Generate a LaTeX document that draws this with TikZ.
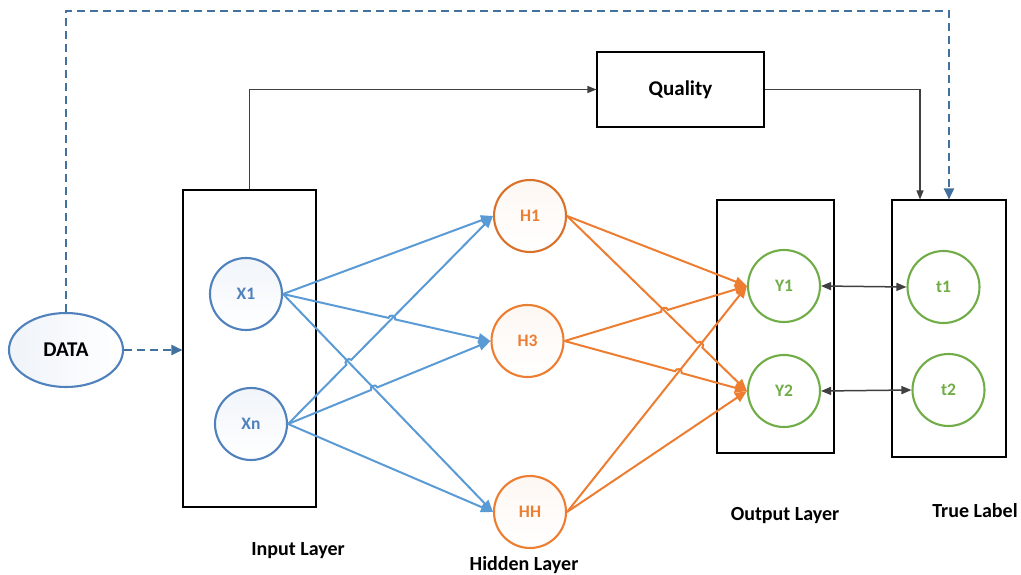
\documentclass[tikz,border=0pt]{standalone}
\usepackage{fontspec}
\setmainfont{Carlito}
\usetikzlibrary{arrows.meta,calc,intersections,shapes.geometric}

\definecolor{inblue}{HTML}{4F81BD}
\definecolor{linkblue}{HTML}{5B9BD5}
\definecolor{dashblue}{HTML}{41719C}
\definecolor{hidorange}{HTML}{ED7D31}
\definecolor{hidedge}{HTML}{D9712B}
\definecolor{outgreen}{HTML}{70AD47}
\definecolor{wire}{HTML}{404040}

% a straight connector that jumps over another one at the crossing point #4
\newcommand\hopwire[4]{%
  \draw[#1] (#2) -- ($(#4)!3.5pt!(#2)$)
    to[bend left=90,looseness=1.5] ($(#4)!3.5pt!(#3)$) -- (#3);}

\begin{document}
\begin{tikzpicture}[x=1pt,y=-1pt,
  neuron/.style={circle, minimum size=72pt, inner sep=0pt, line width=2.1pt,
    font=\fontsize{17.5}{19}\selectfont\bfseries},
  inneuron/.style={neuron, draw=inblue, text=inblue, top color=inblue!8, bottom color=white},
  hidneuron/.style={neuron, draw=hidorange, text=hidorange, top color=hidorange!6, bottom color=white},
  outneuron/.style={neuron, draw=outgreen, text=outgreen, fill=white},
  layerbox/.style={draw=black, line width=1.1pt, inner sep=0pt},
  caption/.style={anchor=base, font=\fontsize{20}{22}\selectfont\bfseries},
  bluelink/.style={draw=linkblue, line width=2pt, -{Triangle[length=12pt,width=10pt]}},
  orangelink/.style={draw=hidorange, line width=2pt, -{Triangle[length=12pt,width=10pt]}},
  wirelink/.style={draw=wire, line width=1.3pt, -{Triangle[length=9pt,width=7pt]}},
  pairlink/.style={draw=wire, line width=1.5pt, {Triangle[length=10pt,width=8pt]}-{Triangle[length=10pt,width=8pt]}},
  dashlink/.style={draw=dashblue, line width=2pt, dash pattern=on 8pt off 5pt,
    -{Triangle[length=11pt,width=10pt]}}
]
\useasboundingbox (0,0) rectangle (1021,575);
\fill[white] (0,0) rectangle (1021,575);

% layer frames
\node[layerbox, minimum width=133pt, minimum height=317pt] (inbox) at (249.5,348.5) {};
\node[layerbox, minimum width=117pt, minimum height=253pt] (outbox) at (775.5,326.5) {};
\node[layerbox, minimum width=114pt, minimum height=257pt] (truebox) at (949,328.5) {};
\node[layerbox, minimum width=167pt, minimum height=75pt,
  font=\fontsize{21}{23}\selectfont\bfseries] (quality) at (680.5,89.5) {Quality};

% data source
\node[ellipse, draw=inblue, line width=2.1pt, minimum width=114pt, minimum height=74pt,
  left color=inblue!9, right color=white, inner sep=0pt,
  font=\fontsize{21}{23}\selectfont\bfseries] (data) at (66,350) {DATA};

% neurons
\node[inneuron] (x1) at (246,294) {X1};
\node[inneuron] (xn) at (251,424) {Xn};
\node[hidneuron, draw=hidedge] (h1) at (530,216) {H1};
\node[hidneuron] (h3) at (527.5,341) {H3};
\node[hidneuron] (hh) at (530,512) {HH};
\node[outneuron] (y1) at (784,286) {Y1};
\node[outneuron] (y2) at (784,391) {Y2};
\node[outneuron] (t1) at (943.5,287) {t1};
\node[outneuron] (t2) at (948.5,390) {t2};

% captions
\node[caption] (capin) at (298,555) {Input Layer};
\node[caption] (caphid) at (524,570) {Hidden Layer};
\node[caption] (capout) at (785,520) {Output Layer};
\node[caption] (captrue) at (975,517) {True Label};

% crossing points of the layer connections
\path[name path=bX1H3] (x1.east) -- (h3.west);
\path[name path=bXnH1] (xn.east) -- (h1.west);
\path[name path=bX1HH] (x1.east) -- (hh.west);
\path[name path=bXnH3] (xn.east) -- (h3.west);
\path[name intersections={of=bX1H3 and bXnH1, by=k1}];
\path[name intersections={of=bXnH1 and bX1HH, by=k2}];
\path[name intersections={of=bXnH3 and bX1HH, by=k3}];

\path[name path=oH3Y1] (h3.east) -- (y1.west);
\path[name path=oH1Y2] (h1.east) -- (y2.west);
\path[name path=oHHY1] (hh.east) -- (y1.west);
\path[name path=oH3Y2] (h3.east) -- (y2.west);
\path[name intersections={of=oH3Y1 and oH1Y2, by=m1}];
\path[name intersections={of=oH1Y2 and oHHY1, by=m2}];
\path[name intersections={of=oH3Y2 and oHHY1, by=m3}];

% input -> hidden
\draw[bluelink] (x1.east) -- (h1.west);
\draw[bluelink] (x1.east) -- (hh.west);
\draw[bluelink] (xn.east) -- (hh.west);
\hopwire{bluelink}{x1.east}{h3.west}{k1}
\hopwire{bluelink}{xn.east}{h1.west}{k2}
\hopwire{bluelink}{xn.east}{h3.west}{k3}

% hidden -> output
\draw[orangelink] (h1.east) -- (y1.west);
\draw[orangelink] (hh.east) -- (y1.west);
\draw[orangelink] (hh.east) -- (y2.west);
\hopwire{orangelink}{h3.east}{y1.west}{m1}
\hopwire{orangelink}{h1.east}{y2.west}{m2}
\hopwire{orangelink}{h3.east}{y2.west}{m3}

% output <-> true label
\draw[pairlink] (y1.east) -- (t1.west);
\draw[pairlink] (y2.east) -- (t2.west);

% quality path
\draw[wirelink] (inbox.north) |- (quality.west);
\draw[wirelink] (quality.east) -| ([xshift=-29pt]truebox.north);

% data paths
\coordinate (ridge) at (500,11);
\draw[dashlink] (data.east) -- (data.east -| inbox.west);
\draw[dashlink] (data.north) -- (data.north |- ridge) -| (truebox.north);
\end{tikzpicture}
\end{document}
